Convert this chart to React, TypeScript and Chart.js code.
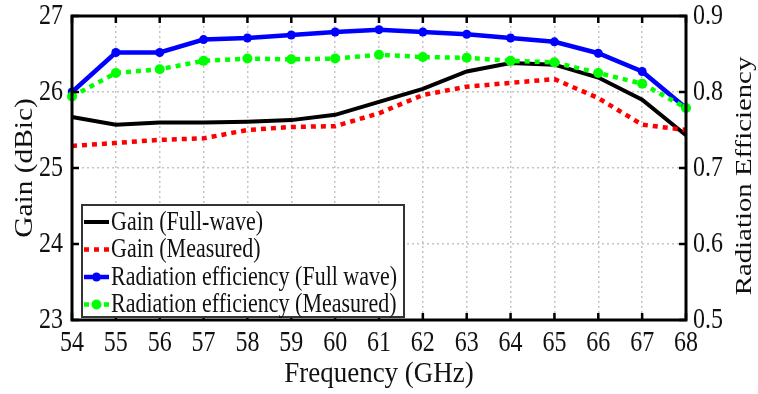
import React, { useEffect, useRef } from "react";
import { Chart, registerables } from "chart.js";

Chart.register(...registerables);

const frequencies = [54, 55, 56, 57, 58, 59, 60, 61, 62, 63, 64, 65, 66, 67, 68];
const gainFullWave = [25.67, 25.57, 25.6, 25.6, 25.61, 25.63, 25.7, 25.87, 26.04, 26.27, 26.38, 26.36, 26.19, 25.9, 25.43];
const gainMeasured = [25.29, 25.33, 25.37, 25.39, 25.5, 25.54, 25.55, 25.72, 25.96, 26.07, 26.12, 26.17, 25.92, 25.57, 25.5];
const effFullWave = [0.8, 0.852, 0.852, 0.869, 0.871, 0.875, 0.879, 0.882, 0.879, 0.876, 0.871, 0.866, 0.851, 0.827, 0.779];
const effMeasured = [0.794, 0.825, 0.83, 0.841, 0.844, 0.843, 0.844, 0.849, 0.846, 0.845, 0.841, 0.839, 0.825, 0.811, 0.779];

const seriesNames = [
  "Gain (Full-wave)",
  "Gain (Measured)",
  "Radiation efficiency (Full wave)",
  "Radiation efficiency (Measured)",
];
const xTitle = "Frequency (GHz)";
const yTitle = "Gain (dBic)";
const y1Title = "Radiation Efficiency";

const FONT = "'Liberation Serif', 'Times New Roman', serif";
const STRETCH = 1.2;

function stretchedText(ctx: any, text: string, x: number, y: number, align: string, size: number, sy: number) {
  ctx.save();
  ctx.font = `${size}px ${FONT}`;
  ctx.textAlign = align;
  ctx.textBaseline = "middle";
  ctx.translate(x, y);
  ctx.scale(1, sy);
  ctx.fillText(text, 0, 0);
  ctx.restore();
}

function rotatedText(ctx: any, text: string, x: number, y: number, size: number, sx: number) {
  ctx.save();
  ctx.font = `${size}px ${FONT}`;
  ctx.textAlign = "center";
  ctx.textBaseline = "middle";
  ctx.translate(x, y);
  ctx.rotate(-Math.PI / 2);
  ctx.scale(sx, 1);
  ctx.fillText(text, 0, 0);
  ctx.restore();
}

const framePlugin = {
  id: "framePlugin",
  afterDraw(chart: any) {
    const ctx = chart.ctx;
    const { left, right, top, bottom } = chart.chartArea;
    const xs = chart.scales.x;
    const ys = chart.scales.y;
    const y1 = chart.scales.y1;
    ctx.save();
    // inward ticks
    ctx.strokeStyle = "#000";
    ctx.lineWidth = 2.5;
    ctx.beginPath();
    xs.ticks.forEach((_t: any, i: number) => {
      const px = xs.getPixelForTick(i);
      ctx.moveTo(px, top);
      ctx.lineTo(px, top + 7);
      ctx.moveTo(px, bottom);
      ctx.lineTo(px, bottom - 7);
    });
    ys.ticks.forEach((t: any) => {
      const py = ys.getPixelForValue(t.value);
      ctx.moveTo(left, py);
      ctx.lineTo(left + 7, py);
      ctx.moveTo(right, py);
      ctx.lineTo(right - 7, py);
    });
    ctx.stroke();
    // frame
    ctx.lineWidth = 3;
    ctx.strokeRect(left, top, right - left, bottom - top);

    // tick labels
    ctx.fillStyle = "#111";
    xs.ticks.forEach((_t: any, i: number) => {
      const px = xs.getPixelForTick(i);
      stretchedText(ctx, String(frequencies[i]), px, bottom + 23, "center", 24, STRETCH);
    });
    ys.ticks.forEach((t: any) => {
      const py = ys.getPixelForValue(t.value);
      stretchedText(ctx, String(t.value), left - 9, py, "right", 24, STRETCH);
    });
    y1.ticks.forEach((t: any) => {
      const py = y1.getPixelForValue(t.value);
      stretchedText(ctx, Number(t.value).toFixed(1), right + 7, py, "left", 24, STRETCH);
    });

    // legend
    const bx = left + 10;
    const by = bottom - 115;
    const bw = 322;
    const bh = 112;
    ctx.fillStyle = "#fff";
    ctx.fillRect(bx, by, bw, bh);
    ctx.strokeStyle = "#333";
    ctx.lineWidth = 2;
    ctx.strokeRect(bx, by, bw, bh);
    const dsets = chart.data.datasets;
    for (let i = 0; i < 4; i++) {
      const ds = dsets[i];
      const cy = by + 17 + i * 27.5;
      ctx.save();
      ctx.strokeStyle = ds.borderColor;
      ctx.lineWidth = ds.borderWidth;
      ctx.setLineDash(ds.borderDash || []);
      ctx.beginPath();
      ctx.moveTo(bx + 2, cy);
      ctx.lineTo(bx + 27, cy);
      ctx.stroke();
      ctx.setLineDash([]);
      if (ds.pointRadius > 0) {
        ctx.fillStyle = ds.pointBackgroundColor;
        ctx.beginPath();
        ctx.arc(bx + 14.5, cy, ds.pointRadius, 0, Math.PI * 2);
        ctx.fill();
      }
      ctx.restore();
      ctx.fillStyle = "#111";
      stretchedText(ctx, ds.label, bx + 29, cy + 1, "left", 22, STRETCH);
    }

    // titles
    ctx.fillStyle = "#111";
    stretchedText(ctx, xTitle, (left + right) / 2, 374, "center", 27, 1.12);
    rotatedText(ctx, yTitle, 26, 168, 24.5, STRETCH);
    rotatedText(ctx, y1Title, 745, 176, 24, STRETCH);
    ctx.restore();
  },
};

export default function App() {
  const ref = useRef<HTMLCanvasElement | null>(null);
  useEffect(() => {
    if (!ref.current) return;
    const gridCfg = {
      color: "#c4c4c4",
      lineWidth: 1.5,
      drawTicks: false,
    };
    const chart = new Chart(ref.current, {
      type: "line",
      data: {
        labels: frequencies.map(String),
        datasets: [
          {
            label: seriesNames[0],
            data: gainFullWave,
            yAxisID: "y",
            borderColor: "#000000",
            backgroundColor: "#000000",
            borderWidth: 4,
            pointRadius: 0,
            pointBackgroundColor: "#000000",
            order: 3,
          },
          {
            label: seriesNames[1],
            data: gainMeasured,
            yAxisID: "y",
            borderColor: "#ff0000",
            backgroundColor: "#ff0000",
            borderWidth: 4.5,
            borderDash: [5, 5],
            pointRadius: 0,
            pointBackgroundColor: "#ff0000",
            order: 2,
          },
          {
            label: seriesNames[2],
            data: effFullWave,
            yAxisID: "y1",
            borderColor: "#0000ff",
            backgroundColor: "#0000ff",
            borderWidth: 4.5,
            pointRadius: 4.5,
            pointBackgroundColor: "#0000ff",
            pointBorderWidth: 0,
            order: 1,
          },
          {
            label: seriesNames[3],
            data: effMeasured,
            yAxisID: "y1",
            borderColor: "#00ff00",
            backgroundColor: "#00ff00",
            borderWidth: 4.5,
            borderDash: [5, 5],
            pointRadius: 5,
            pointBackgroundColor: "#00ff00",
            pointBorderWidth: 0,
            order: 0,
          },
        ],
      },
      options: {
        responsive: false,
        animation: false,
        layout: { padding: { top: 16, left: 0, right: 0, bottom: 0 } },
        plugins: { legend: { display: false }, tooltip: { enabled: false } },
        elements: { line: { tension: 0 } },
        scales: {
          x: {
            type: "category",
            offset: false,
            grid: gridCfg as any,
            border: { display: false, dash: [2, 3] },
            ticks: { display: false, autoSkip: false, maxRotation: 0 },
            afterFit(scale: any) {
              scale.height = 74;
            },
          },
          y: {
            type: "linear",
            position: "left",
            min: 23,
            max: 27,
            grid: gridCfg as any,
            border: { display: false, dash: [2, 3] },
            ticks: { display: false, stepSize: 1 },
            afterFit(scale: any) {
              scale.width = 72;
            },
          },
          y1: {
            type: "linear",
            position: "right",
            min: 0.5,
            max: 0.9,
            grid: { display: false },
            border: { display: false },
            ticks: { display: false, stepSize: 0.1 },
            afterFit(scale: any) {
              scale.width = 72;
            },
          },
        },
      },
      plugins: [framePlugin],
    });
    return () => chart.destroy();
  }, []);
  return (
    <div style={{ position: "absolute", left: 0, top: 0, width: 758, height: 394, background: "#fff" }}>
      <canvas ref={ref} width={758} height={394} style={{ display: "block" }} />
    </div>
  );
}
